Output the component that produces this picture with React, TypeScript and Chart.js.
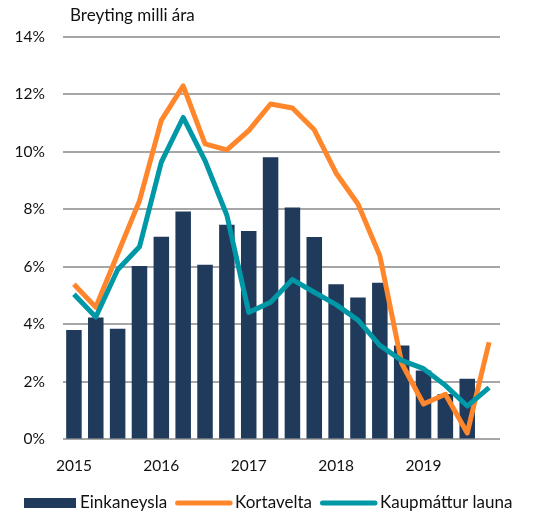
import React, { useEffect, useRef } from "react";
import { Chart, registerables } from "chart.js";

Chart.register(...registerables);

const years = ["2015", "2016", "2017", "2018", "2019"];
const quarters = ["Q1", "Q2", "Q3", "Q4"];
const categories: string[] = years.flatMap((y) => quarters.map((q) => `${y} ${q}`));

const einkaneysla: (number | null)[] = [
  3.81, 4.24, 3.85, 6.03, 7.05, 7.93, 6.08, 7.47, 7.25, 9.82,
  8.07, 7.04, 5.4, 4.94, 5.45, 3.27, 2.4, 1.58, 2.11, null,
];
const kortavelta: number[] = [
  5.4, 4.6, 6.45, 8.3, 11.1, 12.3, 10.28, 10.07, 10.74, 11.67,
  11.53, 10.77, 9.26, 8.19, 6.39, 2.65, 1.23, 1.57, 0.22, 3.38,
];
const kaupmattur: number[] = [
  5.05, 4.26, 5.9, 6.7, 9.65, 11.2, 9.7, 7.8, 4.42, 4.77,
  5.56, 5.12, 4.69, 4.15, 3.27, 2.75, 2.46, 1.88, 1.16, 1.8,
];
const seriesNames = ["Einkaneysla", "Kortavelta", "Kaupmáttur launa"];
const titleText = "Breyting milli ára";
const yTicks = [0, 2, 4, 6, 8, 10, 12, 14];

const NAVY = "#1f3a5b";
const ORANGE = "#ff862b";
const TEAL = "#0097a7";
const GRID = "#a6a6a6";
const TEXT = "#111111";
const FONT = "Lato, 'Liberation Sans', sans-serif";
const TICK_SIZE = 15.5;
const LABEL_SIZE = 17;

const overlayPlugin = {
  id: "overlay",
  afterDraw(chart: any) {
    const ctx = chart.ctx as CanvasRenderingContext2D;
    ctx.save();
    ctx.font = `${LABEL_SIZE}px ${FONT}`;
    ctx.fillStyle = TEXT;
    ctx.textBaseline = "middle";
    ctx.textAlign = "left";
    ctx.fillText(titleText, chart.chartArea.left + 7, 8);

    // legend
    const y = 495;
    let x = 16;
    const colors = [NAVY, ORANGE, TEAL];
    seriesNames.forEach((name, i) => {
      if (i === 0) {
        ctx.fillStyle = NAVY;
        ctx.fillRect(x, y - 5, 52, 10);
        x += 52 + 4;
      } else {
        ctx.strokeStyle = colors[i];
        ctx.lineWidth = 5;
        ctx.lineCap = "round";
        ctx.beginPath();
        ctx.moveTo(x + 2.5, y);
        ctx.lineTo(x + 55, y);
        ctx.stroke();
        x += 58 + 2;
      }
      ctx.fillStyle = TEXT;
      ctx.fillText(name, x, y);
      x += ctx.measureText(name).width + 8;
    });
    ctx.restore();
  },
};

export default function App() {
  const ref = useRef<HTMLCanvasElement | null>(null);
  useEffect(() => {
    if (!ref.current) return;
    const chart = new Chart(ref.current, {
      type: "bar",
      data: {
        labels: categories,
        datasets: [
          {
            type: "bar",
            label: seriesNames[0],
            data: einkaneysla,
            backgroundColor: NAVY,
            barPercentage: 0.71,
            categoryPercentage: 1,
            order: 3,
          },
          {
            type: "line",
            label: seriesNames[1],
            data: kortavelta,
            borderColor: ORANGE,
            backgroundColor: ORANGE,
            borderWidth: 5,
            pointRadius: 0,
            tension: 0,
            borderJoinStyle: "round",
            order: 2,
          },
          {
            type: "line",
            label: seriesNames[2],
            data: kaupmattur,
            borderColor: TEAL,
            backgroundColor: TEAL,
            borderWidth: 5,
            pointRadius: 0,
            tension: 0,
            borderJoinStyle: "round",
            order: 1,
          },
        ] as any,
      },
      options: {
        animation: false,
        responsive: false,
        maintainAspectRatio: false,
        layout: { padding: { left: 0, right: 27, top: 29, bottom: 21 } },
        plugins: {
          legend: { display: false },
          title: { display: false },
          tooltip: { enabled: false },
        },
        scales: {
          x: {
            grid: { display: false, drawTicks: false },
            border: { display: false },
            ticks: {
              autoSkip: false,
              maxRotation: 0,
              padding: 17,
              color: TEXT,
              font: { family: FONT, size: TICK_SIZE },
              callback: (_v: any, i: number) =>
                i % 4 === 0 ? years[i / 4] : "",
            },
          },
          y: {
            min: yTicks[0],
            max: yTicks[yTicks.length - 1],
            grid: { color: GRID, lineWidth: 2, drawTicks: false },
            border: { display: false },
            ticks: {
              stepSize: 2,
              padding: 18,
              color: TEXT,
              font: { family: FONT, size: TICK_SIZE },
              callback: (v: any) => `${v}%`,
            },
            afterFit: (s: any) => {
              s.width = 55;
            },
          },
        },
      },
      plugins: [overlayPlugin],
    });
    return () => chart.destroy();
  }, []);
  return (
    <div style={{ width: 519, height: 505 }}>
      <canvas ref={ref} width={519} height={505} style={{ display: "block" }} />
    </div>
  );
}
